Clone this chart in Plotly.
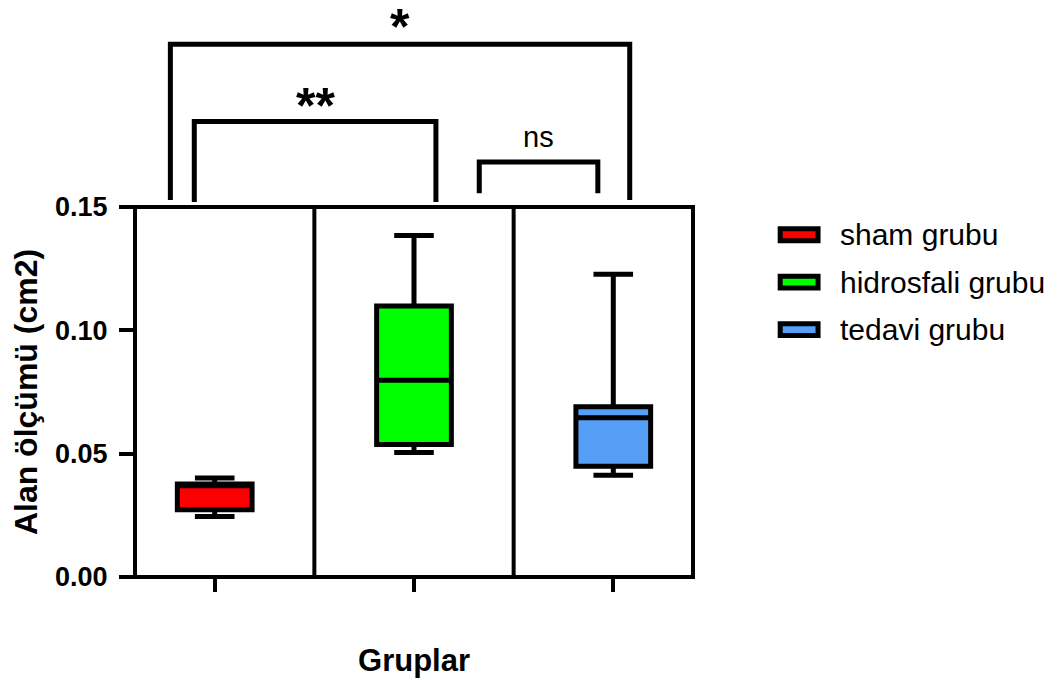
import plotly.graph_objects as go

# ---- data ----
categories = ["sham grubu", "hidrosfali grubu", "tedavi grubu"]
colors = ["#FF0000", "#00FF00", "#559FF7"]
q1 = [0.0273, 0.0537, 0.0449]
median = [0.0370, 0.0798, 0.0646]
q3 = [0.0377, 0.1099, 0.0690]
lowerfence = [0.0245, 0.0505, 0.0413]
upperfence = [0.0401, 0.1384, 0.1227]
y_tickvals = [0.00, 0.05, 0.10, 0.15]
y_ticktext = ["0.00", "0.05", "0.10", "0.15"]
# significance brackets: (left group, right group, label)
comparisons = [(0, 2, "*"), (0, 1, "**"), (1, 2, "ns")]

FONT = "Liberation Sans, Arial, Helvetica, sans-serif"
XR = [-0.4, 2.4]
YR = [0, 0.15]
W, H = 1053, 672
ML, MT, PW, PH = 125, 199, 560, 374
MR, MB = W - ML - PW, H - MT - PH


def px_x(v):
    return (v - XR[0]) / (XR[1] - XR[0])


def px_y(v):
    return (v - YR[0]) / (YR[1] - YR[0])


fig = go.Figure()
for i, name in enumerate(categories):
    fig.add_trace(go.Box(
        x=[i], q1=[q1[i]], median=[median[i]], q3=[q3[i]],
        lowerfence=[lowerfence[i]], upperfence=[upperfence[i]],
        name=name, fillcolor=colors[i],
        line=dict(color="black", width=5),
        width=0.375, whiskerwidth=0.53, boxpoints=False,
        showlegend=False, hoverinfo="skip",
    ))

shapes = []
# plot frame
shapes.append(dict(type="rect", xref="paper", yref="paper", x0=0, x1=1, y0=0, y1=1,
                   line=dict(color="black", width=4), layer="above"))
# category separators
for xv in [0.5, 1.5]:
    shapes.append(dict(type="line", xref="x", yref="y", x0=xv, x1=xv,
                       y0=YR[0], y1=YR[1], line=dict(color="black", width=4)))

# bracket geometry in data units (positions above the axis range)
bracket_geom = {
    (0, 2, "*"): dict(xl=-0.2225, xr=2.0825, top=0.2160, bot=0.1528, ty=0.2230),
    (0, 1, "**"): dict(xl=-0.1025, xr=1.11, top=0.1847, bot=0.1520, ty=0.1911),
    (1, 2, "ns"): dict(xl=1.3275, xr=1.9225, top=0.1682, bot=0.1556, ty=0.1783),
}
annotations = []
for comp in comparisons:
    g = bracket_geom[comp]
    path = (f"M {px_x(g['xl'])},{px_y(g['bot'])} L {px_x(g['xl'])},{px_y(g['top'])} "
            f"L {px_x(g['xr'])},{px_y(g['top'])} L {px_x(g['xr'])},{px_y(g['bot'])}")
    shapes.append(dict(type="path", xref="paper", yref="paper", path=path,
                       line=dict(color="black", width=5)))
    label = comp[2]
    is_star = label != "ns"
    annotations.append(dict(
        x=px_x((g["xl"] + g["xr"]) / 2), y=px_y(g["ty"]), xref="paper", yref="paper",
        text=f"<b>{label}</b>" if is_star else label, showarrow=False,
        font=dict(family=FONT, size=50 if is_star else 29, color="black"),
        xanchor="center", yanchor="middle",
    ))

# manual legend
leg_centers = [227, 275, 323]
for i, name in enumerate(categories):
    cy = (MT + PH - leg_centers[i]) / PH
    shapes.append(dict(type="rect", xref="paper", yref="paper",
                       x0=(772.5 - ML) / PW, x1=(810.5 - ML) / PW,
                       y0=cy - 6 / PH, y1=cy + 6 / PH,
                       fillcolor=colors[i], line=dict(color="black", width=5)))
    annotations.append(dict(x=(831 - ML) / PW, y=cy, xref="paper", yref="paper",
                            text=name, showarrow=False, xanchor="left", yanchor="middle",
                            font=dict(family=FONT, size=30, color="black")))

fig.update_layout(
    width=W, height=H,
    margin=dict(l=ML, r=MR, t=MT, b=MB),
    plot_bgcolor="white", paper_bgcolor="white",
    shapes=shapes, annotations=annotations,
    showlegend=False,
    xaxis=dict(range=XR, tickvals=[0, 1, 2], ticktext=["", "", ""],
               showline=False,
               ticks="outside", ticklen=14, tickwidth=4, tickcolor="black",
               showgrid=False, zeroline=False,
               title=dict(text="<b>Gruplar</b>", standoff=55,
                          font=dict(family=FONT, size=31, color="black"))),
    yaxis=dict(range=YR, tickvals=y_tickvals, ticktext=y_ticktext,
               showline=False,
               ticks="outside", ticklen=15, tickwidth=4, tickcolor="black",
               showgrid=False, zeroline=False, ticklabelstandoff=6,
               tickfont=dict(family=FONT, size=27, color="black", weight="bold"),
               title=dict(text="<b>Alan ölçümü (cm2)</b>", standoff=13,
                          font=dict(family=FONT, size=32, color="black"))),
)

fig.write_html("out.html")
